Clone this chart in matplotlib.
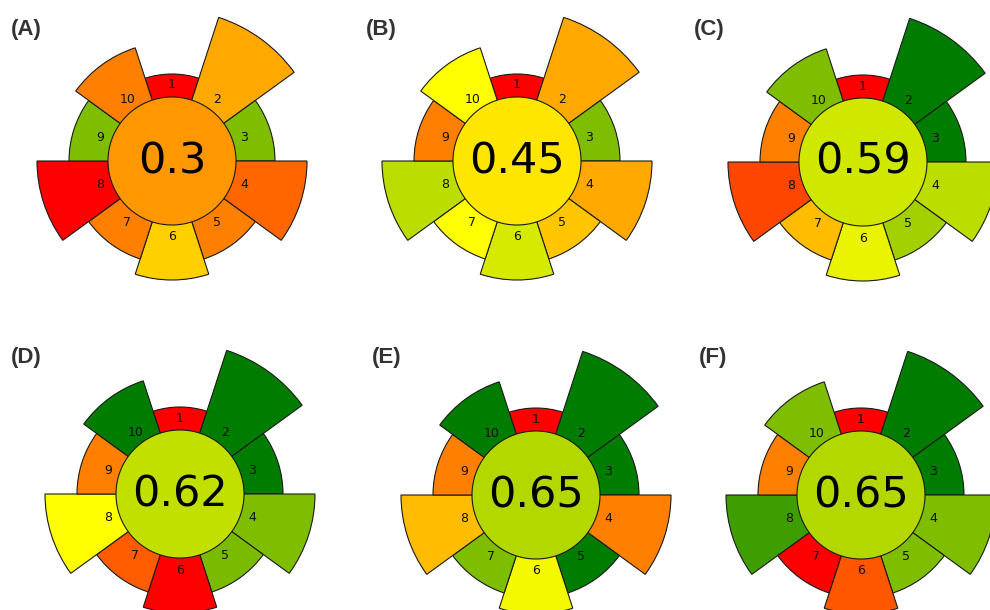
import numpy as np
import matplotlib
matplotlib.use("Agg")
import matplotlib.pyplot as plt
from matplotlib.colors import LinearSegmentedColormap

# ---- data ----
panel_labels = ["(A)", "(B)", "(C)", "(D)", "(E)", "(F)"]
overall_scores = [0.30, 0.45, 0.59, 0.62, 0.65, 0.65]
criteria = ["1", "2", "3", "4", "5", "6", "7", "8", "9", "10"]
weights = [1, 5, 2, 4, 2, 3, 2, 4, 2, 3]

scores_A = [0.00, 0.33, 0.75, 0.20, 0.25, 0.41, 0.25, 0.00, 0.75, 0.25]
scores_B = [0.00, 0.33, 0.75, 0.33, 0.39, 0.58, 0.50, 0.63, 0.25, 0.50]
scores_C = [0.00, 1.00, 1.00, 0.63, 0.68, 0.54, 0.37, 0.14, 0.25, 0.75]
scores_D = [0.00, 1.00, 1.00, 0.75, 0.76, 0.00, 0.18, 0.50, 0.25, 1.00]
scores_E = [0.00, 1.00, 1.00, 0.25, 1.00, 0.52, 0.75, 0.37, 0.25, 1.00]
scores_F = [0.00, 1.00, 1.00, 0.75, 0.75, 0.17, 0.00, 0.875, 0.25, 0.75]
all_scores = [scores_A, scores_B, scores_C, scores_D, scores_E, scores_F]

# ---- layout / style ----
W, H = 990, 610
centers = [(172, 161), (517, 161), (863, 162), (180, 494), (536, 495), (861, 495)]
title_pos = [(11, 30), (366, 30), (694, 30), (11, 357), (372, 357), (699, 357)]
R = 155.0           # axes half-size in pixels (radial units = pixels)
inner_r = 64.0
label_r = 76.0

def seg_radius(w):
    return 71.0 + 16.0 * w

cmap = LinearSegmentedColormap.from_list(
    "agree", [(0.0, (1, 0, 0)), (0.5, (1, 1, 0)), (1.0, (0, 0.49, 0))])

fig = plt.figure(figsize=(W / 100, H / 100), dpi=100)
fig.patch.set_facecolor("white")

n = len(criteria)
theta = np.arange(n) * 2 * np.pi / n
width = 2 * np.pi / n
edge = "#1a1a1a"

for k in range(6):
    cx, cy = centers[k]
    ax = fig.add_axes([(cx - R) / W, 1 - (cy + R) / H, 2 * R / W, 2 * R / H],
                      projection="polar")
    ax.set_theta_zero_location("N")
    ax.set_theta_direction(-1)
    ax.set_ylim(0, R)
    ax.axis("off")
    ax.patch.set_alpha(0)

    heights = [seg_radius(w) for w in weights]
    colors = [cmap(s) for s in all_scores[k]]
    ax.bar(theta, heights, width=width, bottom=0, color=colors,
           edgecolor=edge, linewidth=0.8, align="center", zorder=2)

    tt = np.linspace(0, 2 * np.pi, 400)
    ax.fill(tt, np.full_like(tt, inner_r), facecolor=cmap(overall_scores[k]),
            edgecolor=edge, linewidth=0.8, zorder=3)

    for t, lab in zip(theta, criteria):
        ax.text(t, label_r, lab, ha="center", va="center", fontsize=9,
                color="#111111", zorder=4)

    ax.text(0, 0, f"{overall_scores[k]:g}", ha="center", va="center",
            fontsize=31, color="black", zorder=5)

    tx, ty = title_pos[k]
    fig.text(tx / W, 1 - ty / H, panel_labels[k], ha="left", va="center",
             fontsize=16, fontweight="bold", color="#333333",
             family=["Liberation Sans", "DejaVu Sans"])

fig.savefig("out.png", dpi=100, facecolor="white")
